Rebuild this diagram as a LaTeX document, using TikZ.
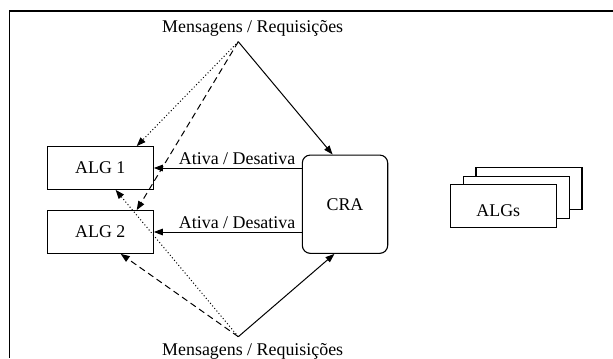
\documentclass[tikz,border=0pt]{standalone}
\usepackage{fontspec}
\setmainfont{Liberation Serif}
\usetikzlibrary{arrows.meta}
\begin{document}
\begin{tikzpicture}[x=0.5pt,y=-0.5pt,
  font=\fontsize{8.95}{10.7}\selectfont,
  box/.style={draw, line width=0.55pt, fill=white, inner sep=0pt,
    minimum width=53pt, minimum height=21.3pt},
  ctrl/.style={draw, line width=0.55pt, rounded corners=4pt, inner sep=0pt,
    minimum width=42.7pt, minimum height=49.15pt},
  txt/.style={inner sep=0pt, anchor=base},
  arr/.style={-{Triangle[length=4.5pt,width=3.3pt]}, line width=0.5pt},
  dsh/.style={arr, dash pattern=on 3.2pt off 2pt},
  dot/.style={arr, dash pattern=on 0.5pt off 1.15pt},
  lbl/.style={inner sep=0pt, anchor=base east, xshift=-3pt, yshift=1.75pt}]
  \useasboundingbox (0,0) rectangle (613,358);

  % outer frame (top and left edges)
  \draw[line width=0.6pt] (613,11) -- (9.3,11) -- (9.3,358);

  % message sources
  \node[txt] (topmsg) at (252.7,32.5) {Mensagens / Requisições};
  \node[txt] (botmsg) at (252.7,355.5) {Mensagens / Requisições};
  \coordinate (T) at (238.3,41.7);
  \coordinate (B) at (238.3,336.7);

  % algorithm boxes and controller
  \node[box] (alg1) at (100.3,168) {ALG 1};
  \node[box] (alg2) at (100.3,232) {ALG 2};
  \node[ctrl] (cra) at (345,204.2) {CRA};

  % stack of algorithms
  \node[box] (algsC) at (529,188.6) {};
  \node[box] (algsB) at (516.4,197.4) {};
  \node[box, label={[xshift=-2.7pt, yshift=-2pt]center:ALGs}] (algsA) at (503.7,206.2) {};

  % activation links
  \draw[arr] (alg1.east -| cra.west) -- node[lbl, pos=0] {Ativa / Desativa} (alg1.east);
  \draw[arr] (alg2.east -| cra.west) -- node[lbl, pos=0] {Ativa / Desativa} (alg2.east);

  % messages from the top
  \draw[arr] (T) -- (cra.104.8);
  \draw[dot] (T) -- (alg1.31.5);
  \draw[dsh] (T) -- (alg2.31.5);

  % messages from the bottom
  \draw[arr] (B) -- (cra.258.5);
  \draw[dsh] (B) -- (alg2.-47.2);
  \draw[dot] (B) -- (alg1.-55.8);
\end{tikzpicture}
\end{document}
